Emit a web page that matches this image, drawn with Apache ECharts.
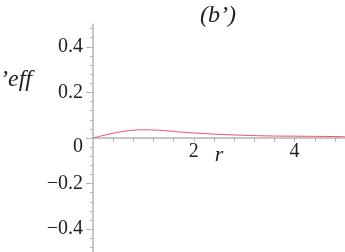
<!DOCTYPE html>
<html><head><meta charset="utf-8">
<script src="https://cdn.jsdelivr.net/npm/echarts@6/dist/echarts.min.js"></script>
<style>html,body{margin:0;padding:0;background:#fff}#c{width:345px;height:252px}</style>
</head><body><div id="c"></div>
<script>
var rValues = [0, 0.2, 0.4, 0.6, 0.8, 1.0, 1.2, 1.5, 1.8, 2.0, 2.5, 3.0, 3.5, 4.0, 4.5, 5.0];
var veffValues = [0, 0.011, 0.021, 0.029, 0.034, 0.036, 0.035, 0.031, 0.025, 0.022, 0.016, 0.012, 0.009, 0.008, 0.007, 0.006];
var yTickLabels = [-0.4, -0.2, 0, 0.2, 0.4];
var xTickLabels = [2, 4];
var titleText = "(b\u2019)";
var xName = "r";
var yName = "\u2019eff";

var yMinor = [], xMinor = [];
for (var i = -12; i <= 12; i++) yMinor.push(+(i * 0.04).toFixed(2));
for (var j = 1; j <= 12; j++) xMinor.push(+(j * 0.4).toFixed(1));

var serif = 'Liberation Serif';
var axisCol = '#b4b4b4';
var gridTop = 24, gridH = 228;
var chart = echarts.init(document.getElementById('c'));
chart.setOption({
  animation: false,
  grid: {left: 93, right: 0, top: gridTop, height: gridH, containLabel: false, outerBoundsMode: 'none'},
  graphic: [
    {type: 'text', x: 218, y: 4, style: {text: titleText, textAlign: 'center', fontFamily: serif, fontStyle: 'italic', fontSize: 24, fill: '#222'}},
    {type: 'text', x: 0, y: 68, style: {text: yName, fontFamily: serif, fontStyle: 'italic', fontSize: 24, fill: '#222'}}
  ],
  xAxis: {
    type: 'value', min: 0, max: 5, position: 'bottom', offset: -gridH / 2,
    name: xName, nameLocation: 'middle', nameGap: 6, nameMoveOverlap: false,
    nameTextStyle: {fontFamily: serif, fontStyle: 'italic', fontSize: 22, color: '#222'},
    axisLine: {onZero: false, lineStyle: {color: axisCol, width: 1.5}},
    axisTick: {show: true, customValues: xMinor, length: 4, lineStyle: {color: axisCol}},
    axisLabel: {show: true, customValues: xTickLabels, margin: 4, fontFamily: serif, fontSize: 20, color: '#222'},
    splitLine: {show: false}
  },
  yAxis: [{
    type: 'value', min: -0.5, max: 0.5,
    axisLine: {show: true, onZero: false, lineStyle: {color: axisCol, width: 1.5}},
    axisTick: {show: true, customValues: yMinor, length: 3, lineStyle: {color: axisCol}},
    axisLabel: {show: true, customValues: yTickLabels, margin: 10, fontFamily: serif, fontSize: 20, color: '#222',
      formatter: function (v) {
        if (Math.abs(v) < 1e-9) return '{z|0}';
        return (v < 0 ? '\u2212' : '') + Math.abs(v).toFixed(1);
      },
      rich: {z: {fontFamily: serif, fontSize: 20, color: '#222', padding: [18, 0, 0, 0]}}
    },
    splitLine: {show: false}
  }, {
    type: 'value', min: -0.5, max: 0.5, position: 'left',
    axisLine: {show: false, onZero: false},
    axisTick: {show: true, customValues: yTickLabels, length: 7, lineStyle: {color: axisCol}},
    axisLabel: {show: false}, splitLine: {show: false}
  }],
  series: [{
    type: 'line', xAxisIndex: 0, yAxisIndex: 0,
    data: rValues.map(function (r, k) { return [r, veffValues[k]]; }),
    smooth: true, showSymbol: false,
    lineStyle: {color: '#ee4d68', width: 1},
    z: 5
  }]
});
</script></body></html>
